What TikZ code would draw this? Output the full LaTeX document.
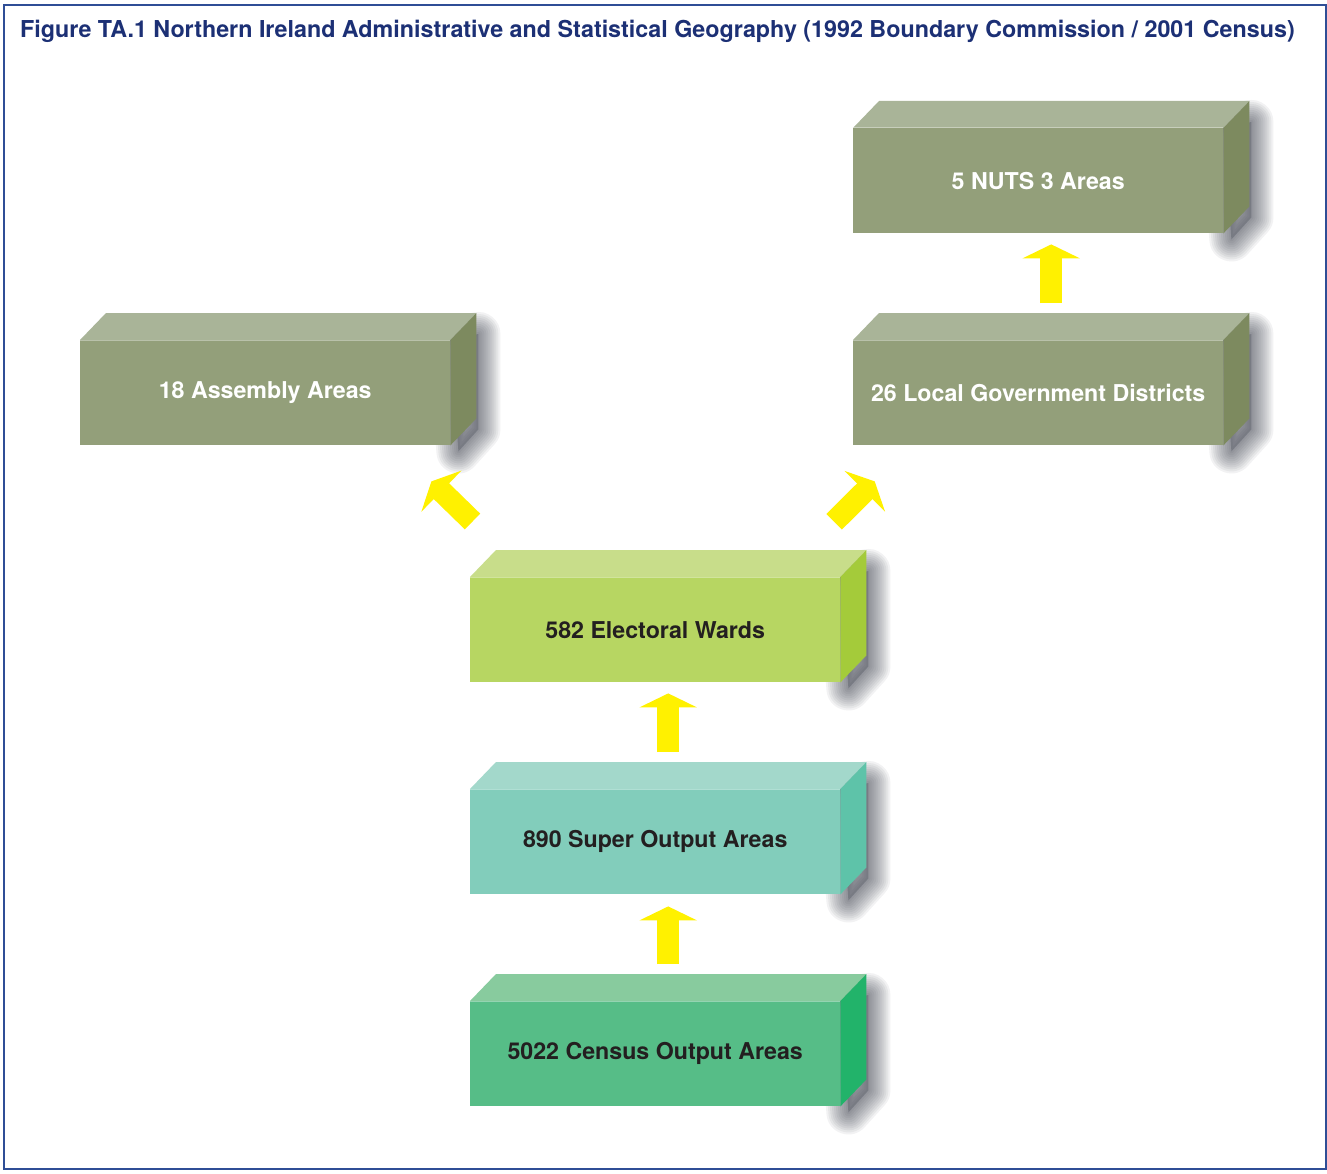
\documentclass[tikz,border=0pt]{standalone}
\usepackage{fontspec}
\setmainfont{TeX Gyre Heros}
\usetikzlibrary{calc,arrows.meta,backgrounds}

\definecolor{framec}{HTML}{2F4E96}
\definecolor{titlec}{HTML}{1C3075}
\definecolor{darktext}{HTML}{231F20}
\definecolor{arrowc}{HTML}{FFF100}
\definecolor{shadowc}{HTML}{3C3F4C}
% olive (administrative areas)
\definecolor{oliveF}{HTML}{939F7A}
\definecolor{oliveT}{HTML}{A9B498}
\definecolor{oliveS}{HTML}{7D8A5F}
% electoral wards
\definecolor{limeF}{HTML}{B7D662}
\definecolor{limeT}{HTML}{C8DD8A}
\definecolor{limeS}{HTML}{A4CB3A}
% super output areas
\definecolor{tealF}{HTML}{82CDBB}
\definecolor{tealT}{HTML}{A3D8CB}
\definecolor{tealS}{HTML}{5EC3A9}
% census output areas
\definecolor{greenF}{HTML}{56BD87}
\definecolor{greenT}{HTML}{88CB9E}
\definecolor{greenS}{HTML}{22B36A}

\tikzset{
  box/.style={rectangle, inner sep=0pt, draw=none, anchor=north west,
    minimum width=370pt, minimum height=105pt,
    font=\fontsize{23.2}{27}\selectfont\bfseries},
  flow/.style={draw=arrowc, line width=22pt,
    -{Triangle[length=14pt,width=57pt,fill=arrowc]}},
}

% cuboid: front face is a node, top and side faces drawn on it,
% soft shadow of the side face on the background layer
\newcommand\cuboid[7]{%
  \node[box, fill=#3, text=#6] (#1) at #2 {#7};
  \fill[#4] (#1.north west) -- ++(26,-27) -- ($(#1.north east)+(26,-27)$)
     -- (#1.north east) -- cycle;
  \draw[white, opacity=0.35, line width=1pt] (#1.north west) -- (#1.north east);
  \fill[#5] (#1.north east) -- ++(26,-27) -- ($(#1.south east)+(26,-27)$)
     -- (#1.south east) -- cycle;
  \begin{pgfonlayer}{background}
    \foreach \w in {44,40,...,4}{
      \draw[shadowc, opacity=0.065, line width=\w pt, line join=round]
        (#1.north east) -- ($(#1.north east)+(28,-6)$)
        -- ($(#1.south east)+(28,-16)$) -- ($(#1.south east)+(8,6)$) -- cycle;
    }
    \fill[shadowc, opacity=0.3]
        (#1.north east) -- ($(#1.north east)+(28,-6)$)
        -- ($(#1.south east)+(28,-16)$) -- ($(#1.south east)+(8,6)$) -- cycle;
  \end{pgfonlayer}
}

\begin{document}
\begin{tikzpicture}[x=1pt,y=-1pt]
  \useasboundingbox (0,0) rectangle (1327,1174);
  \pgfdeclarelayer{paper}
  \pgfsetlayers{paper,background,main}
  \begin{pgfonlayer}{paper}
    \fill[white] (0,0) rectangle (1327,1174);
  \end{pgfonlayer}
  \draw[framec, line width=2pt] (4,5) rectangle (1326,1169);

  \node[anchor=base west, inner sep=0pt, text=titlec,
        font=\fontsize{23.3}{27}\selectfont\bfseries] (title) at (20,38)
    {Figure TA.1 Northern Ireland Administrative and Statistical Geography (1992 Boundary Commission / 2001 Census)};

  \cuboid{nuts}{(853,128)}{oliveF}{oliveT}{oliveS}{white}{5 NUTS 3 Areas}
  \cuboid{lgd}{(853,340)}{oliveF}{oliveT}{oliveS}{white}{26 Local Government Districts}
  \cuboid{asm}{(80,340)}{oliveF}{oliveT}{oliveS}{white}{18 Assembly Areas}
  \cuboid{ew}{(470,577)}{limeF}{limeT}{limeS}{darktext}{582 Electoral Wards}
  \cuboid{soa}{(470,789)}{tealF}{tealT}{tealS}{darktext}{890 Super Output Areas}
  \cuboid{coa}{(470,1001)}{greenF}{greenT}{greenS}{darktext}{5022 Census Output Areas}

  % aggregation arrows
  \draw[flow] ($(coa.north)+(13,-37)$) -- ($(soa.south)+(13,12)$);
  \draw[flow] ($(soa.north)+(13,-37)$) -- ($(ew.south)+(13,11)$);
  \draw[flow] ($(lgd.north)+(13,-37)$) -- ($(nuts.south)+(13,11)$);
  \draw[flow] ($(ew.north west)+(2.5,-55.5)$) -- ($(asm.south east)+(-19,36)$);
  \draw[flow] ($(ew.north east)+(-6.3,-55.2)$) -- ($(lgd.south west)+(21.7,36)$);
\end{tikzpicture}
\end{document}
